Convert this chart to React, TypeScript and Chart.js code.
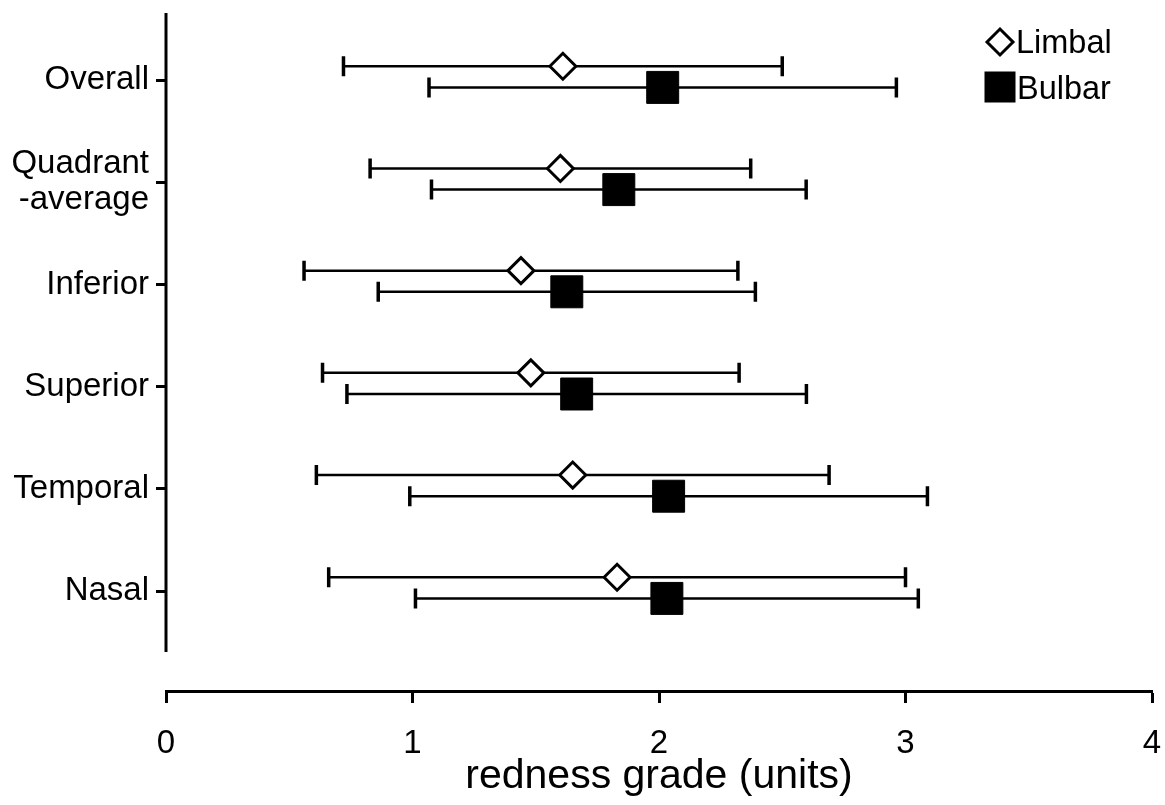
import React, { useEffect, useRef } from 'react';
import { Chart, registerables } from 'chart.js';

Chart.register(...registerables);

// ---- data ----
const categories: (string | string[])[] = ['Overall', ['Quadrant', '-average'], 'Inferior', 'Superior', 'Temporal', 'Nasal'];
const limbalMean = [1.61, 1.6, 1.44, 1.48, 1.65, 1.83];
const limbalSD = [0.89, 0.772, 0.88, 0.845, 1.04, 1.17];
const bulbarMean = [2.015, 1.837, 1.626, 1.666, 2.039, 2.032];
const bulbarSD = [0.948, 0.76, 0.765, 0.932, 1.05, 1.02];
const xTickValues = [0, 1, 2, 3, 4];
const seriesNames = ['Limbal', 'Bulbar'];
const xTitle = 'redness grade (units)';

// ---- style ----
const FONT = '"Liberation Sans", Arial, Helvetica, sans-serif';
const LIMBAL_OFFSET = -0.135;
const BULBAR_OFFSET = 0.072;
const Y_MIN = -0.656;
const Y_MAX = 5.978;
const Y_AXIS_END = 5.597;

const errorBarPlugin = {
  id: 'errorBars',
  beforeDatasetsDraw(chart: any) {
    const { ctx, scales } = chart;
    const xs = scales.x;
    const ys = scales.y;
    ctx.save();
    ctx.strokeStyle = '#000';
    ctx.lineCap = 'butt';
    chart.data.datasets.forEach((ds: any) => {
      ds.data.forEach((p: any) => {
        const py = ys.getPixelForValue(p.y);
        const x1 = xs.getPixelForValue(p.x - p.sd);
        const x2 = xs.getPixelForValue(p.x + p.sd);
        ctx.lineWidth = 2.5;
        ctx.beginPath();
        ctx.moveTo(x1, py);
        ctx.lineTo(x2, py);
        ctx.stroke();
        ctx.lineWidth = 3.5;
        ctx.beginPath();
        ctx.moveTo(x1, py - 10);
        ctx.lineTo(x1, py + 10);
        ctx.moveTo(x2, py - 10);
        ctx.lineTo(x2, py + 10);
        ctx.stroke();
      });
    });
    ctx.restore();
  },
};

const axisAndLegendPlugin = {
  id: 'axisAndLegend',
  afterDraw(chart: any) {
    const { ctx, chartArea, scales } = chart;
    ctx.save();
    // y axis line (stops short of the x axis)
    ctx.strokeStyle = '#000';
    ctx.lineWidth = 3;
    ctx.beginPath();
    ctx.moveTo(chartArea.left, chartArea.top);
    ctx.lineTo(chartArea.left, scales.y.getPixelForValue(Y_AXIS_END));
    ctx.stroke();

    // legend
    const lx = chartArea.right - 152;
    const ly1 = chartArea.top + 29;
    const ly2 = chartArea.top + 74;
    ctx.fillStyle = '#fff';
    ctx.lineWidth = 3;
    ctx.lineJoin = 'miter';
    ctx.beginPath();
    ctx.moveTo(lx - 13, ly1);
    ctx.lineTo(lx, ly1 - 13);
    ctx.lineTo(lx + 13, ly1);
    ctx.lineTo(lx, ly1 + 13);
    ctx.closePath();
    ctx.fill();
    ctx.stroke();
    ctx.fillStyle = '#000';
    ctx.fillRect(lx - 15.5, ly2 - 15.5, 31, 31);
    ctx.font = `32.5px ${FONT}`;
    ctx.textAlign = 'left';
    ctx.textBaseline = 'alphabetic';
    ctx.fillText(seriesNames[0], lx + 16, ly1 + 11);
    ctx.fillText(seriesNames[1], lx + 17, ly2 + 12);
    ctx.restore();
  },
};

export default function App() {
  const canvasRef = useRef<HTMLCanvasElement | null>(null);

  useEffect(() => {
    if (!canvasRef.current) return;
    const chart = new Chart(canvasRef.current, {
      type: 'scatter',
      data: {
        datasets: [
          {
            label: seriesNames[0],
            data: limbalMean.map((m, i) => ({ x: m, y: i + LIMBAL_OFFSET, sd: limbalSD[i] })) as any,
            pointStyle: 'rectRot',
            pointRadius: 13,
            pointBorderWidth: 3,
            pointBackgroundColor: '#fff',
            pointBorderColor: '#000',
            showLine: false,
          },
          {
            label: seriesNames[1],
            data: bulbarMean.map((m, i) => ({ x: m, y: i + BULBAR_OFFSET, sd: bulbarSD[i] })) as any,
            pointStyle: 'rect',
            pointRadius: 22.6,
            pointBorderWidth: 1,
            pointBackgroundColor: '#000',
            pointBorderColor: '#000',
            showLine: false,
          },
        ],
      },
      options: {
        animation: false,
        responsive: true,
        maintainAspectRatio: false,
        events: [],
        layout: { autoPadding: false, padding: { top: 13, right: 13, left: 0, bottom: 0 } },
        plugins: {
          legend: { display: false },
          tooltip: { enabled: false },
        },
        scales: {
          x: {
            type: 'linear',
            min: 0,
            max: 4,
            afterBuildTicks: (scale: any) => {
              scale.ticks = xTickValues.map((v) => ({ value: v }));
            },
            afterFit: (scale: any) => {
              scale.height = 114;
              scale.paddingLeft = 0;
              scale.paddingRight = 0;
            },
            grid: {
              display: true,
              drawOnChartArea: false,
              drawTicks: true,
              tickLength: 12,
              tickWidth: 3,
              tickColor: '#000',
            },
            border: { display: true, color: '#000', width: 3 },
            ticks: {
              color: '#000',
              padding: 21,
              font: { family: FONT, size: 33 },
              callback: (v: any) => String(v),
            },
            title: {
              display: true,
              text: xTitle,
              color: '#000',
              font: { family: FONT, size: 41 },
              padding: { top: 0, bottom: 4 },
            },
          },
          y: {
            type: 'linear',
            reverse: true,
            min: Y_MIN,
            max: Y_MAX,
            afterBuildTicks: (scale: any) => {
              scale.ticks = categories.map((_, i) => ({ value: i }));
            },
            afterFit: (scale: any) => {
              scale.width = 166;
              scale.paddingTop = 0;
              scale.paddingBottom = 0;
            },
            grid: {
              display: true,
              drawOnChartArea: false,
              drawTicks: true,
              tickLength: 10,
              tickWidth: 3,
              tickColor: '#000',
            },
            border: { display: false },
            ticks: {
              color: '#000',
              padding: 7,
              autoSkip: false,
              font: { family: FONT, size: 33, lineHeight: 1.1 },
              callback: (v: any) => categories[v as number] as any,
            },
          },
        },
      },
      plugins: [errorBarPlugin, axisAndLegendPlugin],
    });
    return () => chart.destroy();
  }, []);

  return (
    <div style={{ position: 'absolute', left: 0, top: 0, width: 1165, height: 805, background: '#fff' }}>
      <canvas ref={canvasRef} />
    </div>
  );
}
